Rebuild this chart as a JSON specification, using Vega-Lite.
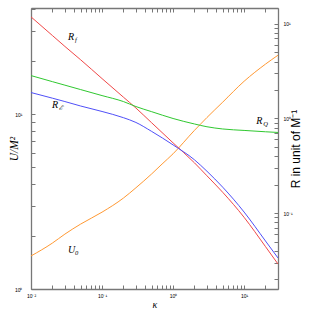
{
  "$schema": "https://vega.github.io/schema/vega-lite/v6.json",
  "width": 247,
  "height": 281,
  "autosize": {"type": "none"},
  "padding": {"left": 31, "top": 8, "right": 37, "bottom": 26},
  "config": {
    "view": {"stroke": null},
    "axis": {
      "grid": false,
      "domainColor": "#777",
      "domainWidth": 1.3,
      "ticks": true,
      "tickColor": "#777",
      "tickWidth": 1,
      "tickSize": -4,
      "labelFont": "Liberation Sans",
      "labelFontSize": 5,
      "labelColor": "#000",
      "labelFlush": false,
      "labelOverlap": false,
      "titleFontWeight": "normal",
      "titleColor": "#000"
    }
  },
  "datasets": {
    "U": [
      {"k": 0.01, "U": 1.545}, {"k": 0.02, "U": 1.83}, {"k": 0.03, "U": 2.06}, {"k": 0.05, "U": 2.35},
      {"k": 0.1, "U": 2.75}, {"k": 0.2, "U": 3.31}, {"k": 0.3, "U": 3.79}, {"k": 0.5, "U": 4.55},
      {"k": 0.7, "U": 5.18}, {"k": 1, "U": 5.93}, {"k": 2, "U": 8.07}, {"k": 3, "U": 9.56},
      {"k": 5, "U": 11.7}, {"k": 10, "U": 15.4}, {"k": 20, "U": 19.3}, {"k": 30, "U": 21.7}
    ],
    "R": [
      {"k": 0.01, "R": 11.85, "s": "Rf"}, {"k": 0.02, "R": 7.53, "s": "Rf"}, {"k": 0.03, "R": 5.77, "s": "Rf"},
      {"k": 0.05, "R": 4.17, "s": "Rf"}, {"k": 0.1, "R": 2.64, "s": "Rf"}, {"k": 0.2, "R": 1.68, "s": "Rf"},
      {"k": 0.3, "R": 1.29, "s": "Rf"}, {"k": 0.5, "R": 0.9, "s": "Rf"}, {"k": 1, "R": 0.553, "s": "Rf"},
      {"k": 2, "R": 0.34, "s": "Rf"}, {"k": 3, "R": 0.248, "s": "Rf"}, {"k": 5, "R": 0.166, "s": "Rf"},
      {"k": 10, "R": 0.0903, "s": "Rf"}, {"k": 20, "R": 0.0443, "s": "Rf"}, {"k": 30, "R": 0.029, "s": "Rf"},
      {"k": 0.01, "R": 1.88, "s": "RE"}, {"k": 0.02, "R": 1.64, "s": "RE"}, {"k": 0.03, "R": 1.51, "s": "RE"},
      {"k": 0.05, "R": 1.355, "s": "RE"}, {"k": 0.1, "R": 1.186, "s": "RE"}, {"k": 0.2, "R": 1.02, "s": "RE"},
      {"k": 0.3, "R": 0.908, "s": "RE"}, {"k": 0.5, "R": 0.73, "s": "RE"}, {"k": 1, "R": 0.526, "s": "RE"},
      {"k": 2, "R": 0.366, "s": "RE"}, {"k": 3, "R": 0.277, "s": "RE"}, {"k": 5, "R": 0.188, "s": "RE"},
      {"k": 10, "R": 0.1027, "s": "RE"}, {"k": 20, "R": 0.0508, "s": "RE"}, {"k": 30, "R": 0.0336, "s": "RE"},
      {"k": 0.01, "R": 2.84, "s": "RQ"}, {"k": 0.02, "R": 2.45, "s": "RQ"}, {"k": 0.03, "R": 2.25, "s": "RQ"},
      {"k": 0.05, "R": 2.02, "s": "RQ"}, {"k": 0.1, "R": 1.746, "s": "RQ"}, {"k": 0.2, "R": 1.51, "s": "RQ"},
      {"k": 0.3, "R": 1.337, "s": "RQ"}, {"k": 0.5, "R": 1.18, "s": "RQ"}, {"k": 1, "R": 1.0, "s": "RQ"},
      {"k": 2, "R": 0.875, "s": "RQ"}, {"k": 3, "R": 0.818, "s": "RQ"}, {"k": 5, "R": 0.775, "s": "RQ"},
      {"k": 10, "R": 0.748, "s": "RQ"}, {"k": 20, "R": 0.724, "s": "RQ"}, {"k": 30, "R": 0.712, "s": "RQ"}
    ],
    "labels": [
      {"k": 0.0332, "U": 27.5, "main": "R", "sub": "f"},
      {"k": 0.0198, "U": 11.3, "main": "R", "sub": "ℰ"},
      {"k": 14.8, "U": 9.12, "main": "R", "sub": "Q"},
      {"k": 0.0332, "U": 1.67, "main": "U", "sub": "0"}
    ]
  },
  "layer": [
    {
      "data": {"name": "U"},
      "mark": {"type": "line", "color": "#ff9933", "strokeWidth": 1, "clip": true, "interpolate": "monotone"},
      "encoding": {
        "x": {"field": "k", "type": "quantitative",
          "scale": {"type": "log", "domain": [0.01, 30], "nice": false},
          "axis": {"orient": "bottom", "title": "κ", "titleFont": "Liberation Serif", "titleFontStyle": "italic", "titleFontSize": 10, "titlePadding": 1,
            "values": [0.01,0.02,0.03,0.04,0.05,0.06,0.07,0.08,0.09,0.1,0.2,0.3,0.4,0.5,0.6,0.7,0.8,0.9,1,2,3,4,5,6,7,8,9,10,20,30],
            "labelPadding": 8,
            "labelExpr": "datum.value==0.01?'10⁻²':datum.value==0.1?'10⁻¹':datum.value==1?'10⁰':datum.value==10?'10¹':''"}},
        "y": {"field": "U", "type": "quantitative",
          "scale": {"type": "log", "domain": [1, 40.4], "nice": false},
          "axis": {"orient": "left", "title": "U/M²", "titleFont": "Liberation Serif", "titleFontStyle": "italic", "titleFontSize": 11.5, "titlePadding": -5,
            "values": [1,2,3,4,5,6,7,8,9,10,20,30,40],
            "labelPadding": 13,
            "labelExpr": "datum.value==1?'10⁰':datum.value==10?'10¹':''"}}
      }
    },
    {
      "data": {"name": "labels"},
      "mark": {"type": "text", "font": "Liberation Serif", "fontStyle": "italic", "fontSize": 10, "align": "left", "baseline": "middle", "color": "#000"},
      "encoding": {
        "x": {"field": "k", "type": "quantitative", "scale": {"type": "log", "domain": [0.01, 30], "nice": false}, "axis": null},
        "y": {"field": "U", "type": "quantitative", "scale": {"type": "log", "domain": [1, 40.4], "nice": false}, "axis": null},
        "text": {"field": "main"}
      }
    },
    {
      "data": {"name": "labels"},
      "mark": {"type": "text", "font": "Liberation Serif", "fontStyle": "italic", "fontSize": 6.5, "align": "left", "baseline": "middle", "dx": 7, "dy": 3, "color": "#000"},
      "encoding": {
        "x": {"field": "k", "type": "quantitative", "scale": {"type": "log", "domain": [0.01, 30], "nice": false}, "axis": null},
        "y": {"field": "U", "type": "quantitative", "scale": {"type": "log", "domain": [1, 40.4], "nice": false}, "axis": null},
        "text": {"field": "sub"}
      }
    },
    {
      "data": {"name": "R"},
      "mark": {"type": "line", "strokeWidth": 1, "clip": true, "interpolate": "monotone"},
      "encoding": {
        "x": {"field": "k", "type": "quantitative",
          "scale": {"type": "log", "domain": [0.01, 30], "nice": false},
          "axis": {"orient": "top", "title": null, "labels": false,
            "values": [0.01,0.02,0.03,0.04,0.05,0.06,0.07,0.08,0.09,0.1,0.2,0.3,0.4,0.5,0.6,0.7,0.8,0.9,1,2,3,4,5,6,7,8,9,10,20,30]}},
        "y": {"field": "R", "type": "quantitative",
          "scale": {"type": "log", "domain": [0.0158, 14.7], "nice": false},
          "axis": {"orient": "right", "title": "R in unit of M⁻¹", "titleFont": "Liberation Sans", "titleFontSize": 12, "titleAngle": 270, "titlePadding": 10,
            "values": [0.02,0.03,0.04,0.05,0.06,0.07,0.08,0.09,0.1,0.2,0.3,0.4,0.5,0.6,0.7,0.8,0.9,1,2,3,4,5,6,7,8,9,10],
            "labelPadding": 9,
            "labelExpr": "datum.value==0.1?'10⁻¹':datum.value==1?'10⁰':datum.value==10?'10¹':''"}},
        "color": {"field": "s", "type": "nominal",
          "scale": {"domain": ["Rf", "RE", "RQ"], "range": ["#f04848", "#5050f8", "#30c830"]},
          "legend": null}
      }
    }
  ],
  "resolve": {"scale": {"x": "independent", "y": "independent"}}
}
